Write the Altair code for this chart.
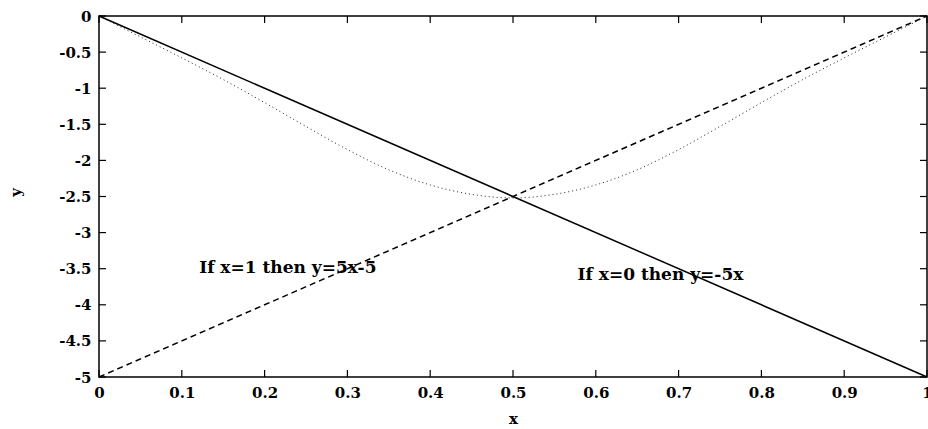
import altair as alt
import pandas as pd

# ---- data ----
line_x = [0, 1]
solid_y = [0, -5]          # If x=0 then y=-5x
dashed_y = [-5, 0]         # If x=1 then y=5x-5

curve_x = [0, 0.05, 0.1, 0.15, 0.2, 0.25, 0.3, 0.35, 0.4, 0.45, 0.5,
           0.55, 0.6, 0.65, 0.7, 0.75, 0.8, 0.85, 0.9, 0.95, 1.0]
curve_y = [0, -0.29, -0.58, -0.88, -1.20, -1.53, -1.85, -2.13, -2.34, -2.47, -2.52,
           -2.47, -2.34, -2.13, -1.85, -1.53, -1.20, -0.88, -0.58, -0.29, 0]

x_ticks = [0, 0.1, 0.2, 0.3, 0.4, 0.5, 0.6, 0.7, 0.8, 0.9, 1]
y_ticks = [0, -0.5, -1, -1.5, -2, -2.5, -3, -3.5, -4, -4.5, -5]

ann_text = ["If x=1 then y=5x-5", "If x=0 then y=-5x"]
ann_x = [0.121, 0.578]
ann_y = [-3.49, -3.59]

FONT = "DejaVu Serif"
W, H = 828, 361

lines_df = pd.DataFrame({"x": line_x, "solid": solid_y, "dashed": dashed_y})
curve_df = pd.DataFrame({"x": curve_x, "y": curve_y})
xt_df = pd.DataFrame({"x": x_ticks})
yt_df = pd.DataFrame({"y": y_ticks})
ann_df = pd.DataFrame({"x": ann_x, "y": ann_y, "t": ann_text})

label_expr = "datum.value < 0 ? '-' + format(-datum.value, '.2~f') : format(datum.value, '.2~f')"

xscale = alt.Scale(domain=[0, 1], nice=False, zero=False)
yscale = alt.Scale(domain=[-5, 0], nice=False, zero=False)

xaxis = alt.Axis(values=x_ticks, labelExpr=label_expr, ticks=False, domain=False, grid=False,
                 labelPadding=8, labelBaseline="top", title="x", titleY=41,
                 titleBaseline="middle", labelFlush=False, labelOverlap=False)
yaxis = alt.Axis(values=y_ticks, labelExpr=label_expr, ticks=False, domain=False, grid=False,
                 labelPadding=8, title="y", titleX=-84, titleY=176, titleAngle=-90,
                 titleAlign="center", titleBaseline="middle", labelFlush=False,
                 labelOverlap=False, labelSeparation=0)


def X(field):
    return alt.X(field, scale=xscale, axis=xaxis, title="x")


def Y(field):
    return alt.Y(field, scale=yscale, axis=yaxis, title="y")


solid = alt.Chart(lines_df).mark_line(color="black", strokeWidth=1.5).encode(
    x=X("x:Q"), y=Y("solid:Q"))
dashed = alt.Chart(lines_df).mark_line(color="black", strokeWidth=1.5, strokeDash=[6, 4]).encode(
    x=X("x:Q"), y=Y("dashed:Q"))
dotted = alt.Chart(curve_df).mark_line(color="#222", strokeWidth=1, strokeDash=[1, 3],
                                       interpolate="monotone").encode(
    x=X("x:Q"), y=Y("y:Q"))

tick_left = alt.Chart(yt_df).mark_rule(color="black", strokeWidth=1.2).encode(
    y=Y("y:Q"), x=alt.value(0), x2=alt.value(7))
tick_right = alt.Chart(yt_df).mark_rule(color="black", strokeWidth=1.2).encode(
    y=Y("y:Q"), x=alt.value(W), x2=alt.value(W - 7))
tick_top = alt.Chart(xt_df).mark_rule(color="black", strokeWidth=1.2).encode(
    x=X("x:Q"), y=alt.value(0), y2=alt.value(7))
tick_bottom = alt.Chart(xt_df).mark_rule(color="black", strokeWidth=1.2).encode(
    x=X("x:Q"), y=alt.value(H), y2=alt.value(H - 7))

ann = alt.Chart(ann_df).mark_text(align="left", baseline="middle", font=FONT,
                                  fontWeight="bold", fontSize=17, color="black").encode(
    x=X("x:Q"), y=Y("y:Q"), text="t:N")

chart = alt.layer(solid, dashed, dotted, tick_left, tick_right, tick_top, tick_bottom, ann).properties(
    width=W, height=H,
    padding={"left": 99, "top": 16, "right": 1, "bottom": 52},
    autosize=alt.AutoSizeParams(type="none"),
    background="white",
).configure_view(stroke="black", strokeWidth=1.5).configure_axis(
    labelFont=FONT, labelFontSize=15, labelFontWeight="bold", labelColor="black",
    titleFont=FONT, titleFontSize=15, titleFontWeight="bold", titleColor="black",
    labelOverlap=False,
)

chart.save("out.html", embed_options={"renderer": "svg", "actions": False})
